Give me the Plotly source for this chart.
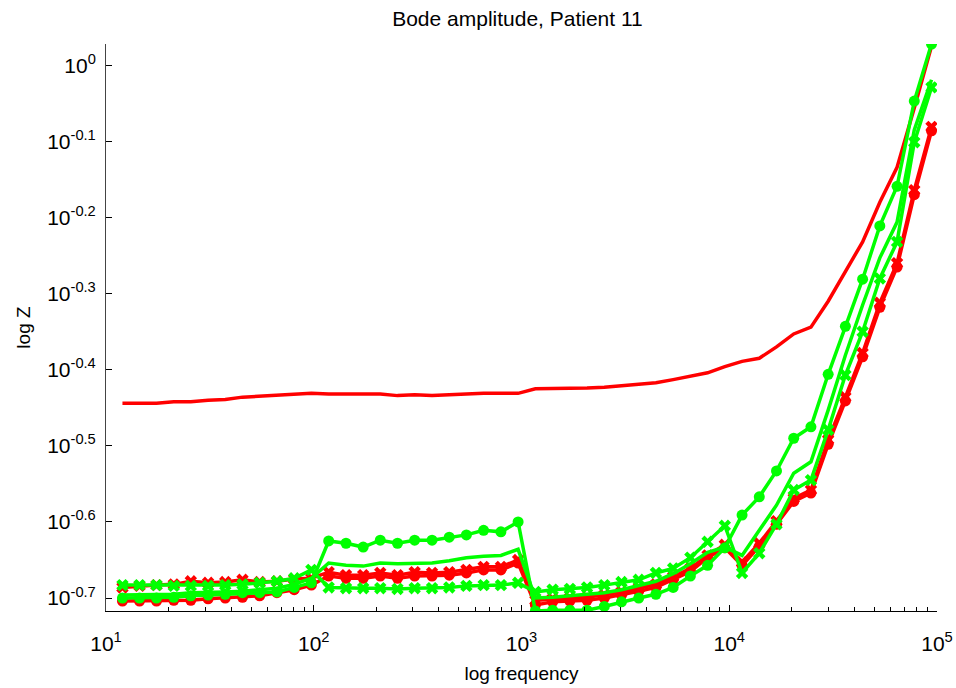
import numpy as np
import plotly.graph_objects as go

# Frequencies (Hz)
freq = [12, 14.5, 17.5, 21.2, 25.6, 31, 37.5, 45.4, 54.9, 66.5, 80.5, 97.4,
        118, 143, 173, 209, 253, 306, 371, 449, 543, 657, 796, 963,
        1166, 1412, 1709, 2068, 2503, 3029, 3666, 4437, 5370, 6500, 7867, 9521,
        11525, 13949, 16882, 20433, 24730, 29932, 36228, 43848, 53071, 64233, 77743, 94095]

# log10 |Z| values
red_plain_log = [-0.444, -0.444, -0.444, -0.442, -0.442, -0.440, -0.439, -0.436, -0.435, -0.433, -0.432, -0.431,
                 -0.432, -0.432, -0.432, -0.432, -0.434, -0.433, -0.434, -0.433, -0.431, -0.431, -0.431, -0.431,
                 -0.425, -0.425, -0.424, -0.424, -0.423, -0.421, -0.419, -0.417, -0.413, -0.409, -0.404, -0.396,
                 -0.389, -0.385, -0.370, -0.353, -0.344, -0.310, -0.272, -0.232, -0.180, -0.134, -0.056, 0.025]

red_x_log = [-0.686, -0.684, -0.683, -0.682, -0.678, -0.680, -0.679, -0.676, -0.679, -0.678, -0.675, -0.674,
             -0.666, -0.670, -0.670, -0.667, -0.670, -0.666, -0.667, -0.666, -0.663, -0.659, -0.659, -0.650,
             -0.703, -0.701, -0.700, -0.699, -0.696, -0.692, -0.687, -0.682, -0.672, -0.661, -0.644, -0.630,
             -0.653, -0.628, -0.599, -0.569, -0.558, -0.492, -0.436, -0.378, -0.312, -0.260, -0.164, -0.081]

red_o_log = [-0.704, -0.704, -0.704, -0.703, -0.703, -0.701, -0.700, -0.699, -0.697, -0.693, -0.689, -0.683,
             -0.671, -0.674, -0.674, -0.671, -0.674, -0.671, -0.671, -0.670, -0.667, -0.663, -0.663, -0.654,
             -0.709, -0.705, -0.704, -0.703, -0.700, -0.696, -0.691, -0.686, -0.676, -0.665, -0.647, -0.634,
             -0.657, -0.632, -0.603, -0.573, -0.562, -0.498, -0.441, -0.383, -0.318, -0.265, -0.170, -0.086]

green_o_log = [-0.700, -0.700, -0.700, -0.699, -0.697, -0.696, -0.695, -0.693, -0.693, -0.692, -0.686, -0.680,
               -0.625, -0.628, -0.633, -0.624, -0.628, -0.624, -0.624, -0.620, -0.617, -0.611, -0.613, -0.600,
               -0.717, -0.716, -0.716, -0.716, -0.711, -0.705, -0.700, -0.695, -0.686, -0.671, -0.657, -0.634,
               -0.591, -0.567, -0.533, -0.490, -0.475, -0.406, -0.343, -0.281, -0.211, -0.159, -0.047, 0.028]

green_plain_log = [-0.696, -0.696, -0.696, -0.695, -0.693, -0.693, -0.692, -0.691, -0.689, -0.687, -0.682, -0.674,
                   -0.654, -0.657, -0.658, -0.654, -0.655, -0.654, -0.654, -0.651, -0.647, -0.645, -0.644, -0.636,
                   -0.700, -0.699, -0.697, -0.696, -0.693, -0.689, -0.684, -0.678, -0.668, -0.655, -0.640, -0.633,
                   -0.644, -0.611, -0.578, -0.536, -0.521, -0.453, -0.381, -0.315, -0.253, -0.206, -0.085, -0.019]

green_x_log = [-0.683, -0.683, -0.683, -0.684, -0.684, -0.684, -0.683, -0.682, -0.680, -0.678, -0.674, -0.663,
               -0.686, -0.687, -0.687, -0.687, -0.688, -0.687, -0.687, -0.686, -0.684, -0.683, -0.683, -0.680,
               -0.692, -0.689, -0.688, -0.686, -0.683, -0.679, -0.676, -0.667, -0.661, -0.647, -0.626, -0.605,
               -0.667, -0.641, -0.603, -0.558, -0.545, -0.479, -0.407, -0.350, -0.280, -0.232, -0.101, -0.029]

y_tick_exp = [-0.7, -0.6, -0.5, -0.4, -0.3, -0.2, -0.1, 0]
y_tick_text = ["10<sup>-0.7</sup>", "10<sup>-0.6</sup>", "10<sup>-0.5</sup>", "10<sup>-0.4</sup>",
               "10<sup>-0.3</sup>", "10<sup>-0.2</sup>", "10<sup>-0.1</sup>", "10<sup>0</sup>"]
x_tick_vals = [10, 100, 1000, 10000, 100000]
x_tick_text = ["10<sup>1</sup>", "10<sup>2</sup>", "10<sup>3</sup>", "10<sup>4</sup>", "10<sup>5</sup>"]

RED = "#FF0000"
GREEN = "#00FF00"

fig = go.Figure()

def add(vals, color, symbol=None):
    y = np.power(10.0, np.array(vals))
    if symbol is None:
        fig.add_trace(go.Scatter(x=freq, y=y, mode="lines",
                                 line=dict(color=color, width=3.5), showlegend=False,
                                 hoverinfo="skip"))
    else:
        fig.add_trace(go.Scatter(x=freq, y=y, mode="lines+markers",
                                 line=dict(color=color, width=3.5),
                                 marker=dict(symbol=symbol, size=11, color=color,
                                             line=dict(width=0)),
                                 showlegend=False, hoverinfo="skip"))

add(red_plain_log, RED)
add(red_x_log, RED, "x")
add(red_o_log, RED, "circle")
add(green_o_log, GREEN, "circle")
add(green_plain_log, GREEN)
add(green_x_log, GREEN, "x")

# invisible anchor trace for the minor-tick overlay axis
fig.add_trace(go.Scatter(x=[10, 100000], y=[None, None], xaxis="x2", mode="lines",
                         showlegend=False, hoverinfo="skip"))

minor_x = [m * 10 ** e for e in range(1, 5) for m in range(2, 10)]

font_main = "Liberation Sans, Arial, sans-serif"

fig.update_layout(
    width=956, height=688,
    margin=dict(l=106, r=19, t=44, b=77, autoexpand=False),
    paper_bgcolor="white", plot_bgcolor="white",
    font=dict(family=font_main, color="black"),
    title=dict(text="Bode amplitude, Patient 11", x=0.5413, xanchor="center",
               yref="container", y=1 - 19 / 688, yanchor="middle",
               font=dict(size=21, family=font_main, color="black")),
    xaxis=dict(type="log", range=[1, 5], tickvals=x_tick_vals, ticktext=x_tick_text,
               ticks="inside", ticklen=6, tickcolor="black", showline=True, linecolor="black",
               linewidth=1, showgrid=False, zeroline=False, tickfont=dict(size=21),
               ticklabelstandoff=14, automargin=False,
               title=dict(text="log frequency", font=dict(size=19), standoff=12)),
    xaxis2=dict(type="log", range=[1, 5], overlaying="x", anchor="y", side="bottom",
                tickvals=minor_x, showticklabels=False, ticks="inside", ticklen=4,
                tickcolor="black", showline=False, showgrid=False, zeroline=False,
                automargin=False),
    yaxis=dict(type="log", range=[-0.717, 0.028],
               tickvals=[10 ** e for e in y_tick_exp], ticktext=y_tick_text,
               ticks="inside", ticklen=6, tickcolor="black", showline=True, linecolor="#444444",
               linewidth=1, showgrid=False, zeroline=False, tickfont=dict(size=21),
               ticklabelstandoff=5, automargin=False,
               title=dict(text="log Z", font=dict(size=19), standoff=11)),
)

fig.write_html("out.html", config={"displayModeBar": False},
               post_script="document.body.style.margin='0px';")
